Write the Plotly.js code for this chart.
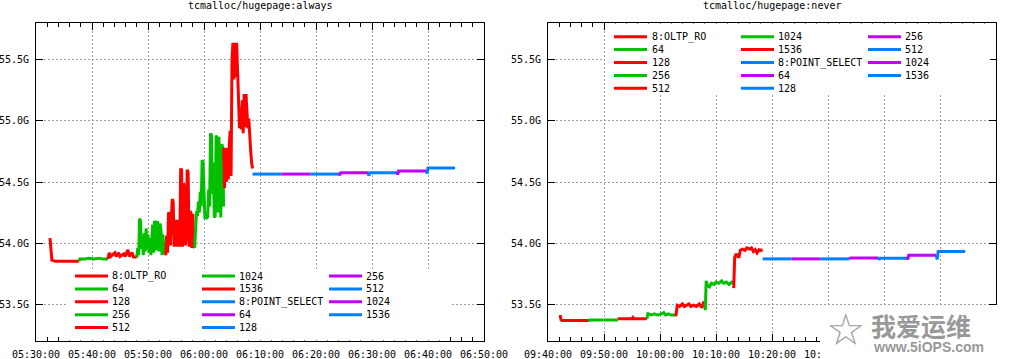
<!DOCTYPE html>
<html><head><meta charset="utf-8">
<script src="https://cdn.plot.ly/plotly-3.0.1.min.js"></script>
<style>html,body{margin:0;padding:0;background:#fff}</style>
</head><body><div id="chart" style="width:1015px;height:359px"></div>
<script>
// ---------------- data ----------------
const chartTitles = ["tcmalloc/hugepage:always", "tcmalloc/hugepage:never"];
const seriesLabels = ["8:OLTP_RO","64","128","256","512","1024","1536","8:POINT_SELECT","64","128","256","512","1024","1536"];
const yTickValues = [53.5, 54.0, 54.5, 55.0, 55.5];
const yTickLabels = ["53.5G", "54.0G", "54.5G", "55.0G", "55.5G"];
const alwaysRange = ["05:30:00", "06:50:00"];
const neverRange = ["09:40:00", "11:00:00"];
const alwaysTickTimes = ["05:30:00","05:40:00","05:50:00","06:00:00","06:10:00","06:20:00","06:30:00","06:40:00","06:50:00"];
const neverTickTimes = ["09:40:00","09:50:00","10:00:00","10:10:00","10:20:00","10:30:00","10:40:00","10:50:00","11:00:00"];
// labels that stay visible in the picture (the rest are hidden by the watermark patch)
const neverTickLabels = ["09:40:00","09:50:00","10:00:00","10:10:00","10:20:00","10:30:00","","",""];

const alwaysTimes = [
  ["05:32:30","05:32:40","05:32:50","05:33:30","05:35:00","05:37:40"],
  ["05:37:40","05:37:50","05:38:40","05:39:30","05:40:20","05:41:10","05:42:00","05:42:50"],
  ["05:42:50","05:42:55","05:43:05","05:43:20","05:44:05","05:44:20","05:44:45","05:45:00","05:45:40","05:45:55","05:46:25","05:46:40","05:47:10","05:47:25","05:48:00"],
  ["05:48:00","05:48:10","05:48:20","05:48:30","05:48:40","05:48:50","05:49:00","05:49:10","05:49:20","05:49:30","05:49:40","05:49:50","05:50:00","05:50:10","05:50:20","05:50:30","05:50:40","05:50:50","05:51:00","05:51:10","05:51:20","05:51:30","05:51:40","05:51:50","05:52:00","05:52:10","05:52:20","05:52:30","05:52:40","05:52:50","05:53:00","05:53:10"],
  ["05:53:10","05:53:20","05:53:30","05:53:40","05:53:50","05:54:00","05:54:10","05:54:20","05:54:30","05:54:40","05:54:50","05:55:00","05:55:10","05:55:20","05:55:30","05:55:40","05:55:50","05:56:00","05:56:10","05:56:20","05:56:30","05:56:40","05:56:50","05:57:00","05:57:10","05:57:20","05:57:30","05:57:40","05:57:50","05:58:00","05:58:10","05:58:20"],
  ["05:58:20","05:58:30","05:58:40","05:58:50","05:59:00","05:59:10","05:59:20","05:59:30","05:59:40","05:59:50","06:00:00","06:00:10","06:00:20","06:00:30","06:00:40","06:00:50","06:01:00","06:01:10","06:01:20","06:01:30","06:01:40","06:01:50","06:02:00","06:02:10","06:02:20","06:02:30","06:02:40","06:02:50","06:03:00","06:03:10","06:03:20","06:03:30"],
  ["06:03:30","06:03:40","06:03:50","06:04:00","06:04:10","06:04:20","06:04:30","06:04:40","06:04:50","06:05:00","06:05:10","06:05:20","06:05:30","06:05:40","06:05:50","06:06:00","06:06:10","06:06:20","06:06:30","06:06:40","06:06:50","06:07:00","06:07:10","06:07:20","06:07:30","06:07:40","06:07:50","06:08:00","06:08:10","06:08:20","06:08:30","06:08:40"],
  ["06:08:40","06:13:50"],
  ["06:13:50","06:19:00"],
  ["06:19:00","06:24:10"],
  ["06:24:10","06:24:15","06:24:25","06:29:20"],
  ["06:29:20","06:29:25","06:29:35","06:34:30"],
  ["06:34:30","06:34:35","06:34:45","06:39:40"],
  ["06:39:40","06:39:50","06:40:00","06:44:50"]
];
const alwaysValues = [
  [54.04,53.97,53.86,53.85,53.85,53.85],
  [53.85,53.87,53.87,53.875,53.87,53.875,53.87,53.87],
  [53.87,53.89,53.92,53.89,53.92,53.89,53.92,53.89,53.91,53.89,53.945,53.89,53.92,53.885,53.885],
  [53.88,53.96,53.90,54.20,54.18,53.95,54.03,53.90,54.08,53.93,54.12,53.95,54.07,53.92,54.04,53.90,54.03,54.15,53.92,54.18,54.17,53.94,54.18,54.14,53.93,54.16,54.10,53.90,54.07,53.91,54.01,53.90],
  [53.90,54.06,53.92,54.25,54.24,53.98,54.19,54.36,54.34,53.97,54.14,54.19,53.97,54.19,54.10,53.97,54.61,54.60,53.97,54.49,54.45,53.98,54.05,54.60,54.58,53.97,54.26,54.25,53.96,54.24,53.97,53.96],
  [53.96,54.19,54.26,54.22,54.34,54.25,54.42,54.30,54.68,54.66,54.45,54.20,54.21,54.20,54.22,54.44,54.30,54.90,54.88,54.40,54.66,54.21,54.22,54.88,54.86,54.25,54.87,54.57,54.21,54.81,54.79,54.30],
  [54.78,54.45,54.78,54.50,54.78,54.52,54.78,54.92,54.55,55.50,55.64,55.34,55.64,55.36,55.64,55.40,55.16,54.94,55.11,54.93,55.17,54.90,55.22,54.95,55.22,55.11,54.94,55.02,54.83,54.76,54.66,54.61],
  [54.565,54.565],
  [54.565,54.565],
  [54.565,54.565],
  [54.565,54.555,54.575,54.575],
  [54.575,54.55,54.575,54.575],
  [54.575,54.56,54.59,54.59],
  [54.59,54.57,54.615,54.615]
];

const neverTimes = [
  ["09:42:10","09:42:20","09:42:30","09:47:20"],
  ["09:47:20","09:47:30","09:49:00","09:50:30","09:52:30"],
  ["09:52:30","09:52:40","09:55:00","09:55:10","09:55:20","09:57:40"],
  ["09:57:40","09:57:50","09:58:30","09:59:00","09:59:30","10:00:00","10:00:40","10:01:00","10:01:30","10:02:00","10:02:50"],
  ["10:02:50","10:03:05","10:03:30","10:04:00","10:04:20","10:04:50","10:05:10","10:05:30","10:06:00","10:06:30","10:07:00","10:07:30","10:07:50","10:08:00"],
  ["10:08:00","10:08:05","10:08:15","10:08:30","10:08:50","10:09:10","10:09:40","10:10:00","10:10:30","10:11:00","10:11:20","10:11:50","10:12:20","10:12:50","10:13:10"],
  ["10:13:10","10:13:20","10:13:35","10:13:50","10:14:05","10:14:20","10:14:40","10:15:10","10:15:30","10:16:00","10:16:20","10:16:40","10:17:00","10:17:20","10:17:40","10:18:00","10:18:20"],
  ["10:18:20","10:23:30"],
  ["10:23:30","10:28:40"],
  ["10:28:40","10:33:50"],
  ["10:33:50","10:34:00","10:39:00"],
  ["10:39:00","10:39:05","10:39:15","10:44:10"],
  ["10:44:10","10:44:15","10:44:25","10:49:20"],
  ["10:49:20","10:49:30","10:49:40","10:54:30"]
];
const neverValues = [
  [53.41,53.37,53.365,53.365],
  [53.36,53.37,53.37,53.37,53.37],
  [53.375,53.38,53.38,53.39,53.38,53.38],
  [53.38,53.42,53.41,53.42,53.41,53.415,53.43,53.41,53.42,53.41,53.41],
  [53.40,53.49,53.48,53.50,53.48,53.49,53.50,53.48,53.49,53.48,53.50,53.47,53.52,53.50],
  [53.50,53.45,53.69,53.65,53.64,53.67,53.66,53.68,53.67,53.69,53.67,53.68,53.66,53.68,53.67],
  [53.63,53.88,53.91,53.89,53.88,53.94,53.95,53.94,53.96,53.95,53.96,53.93,53.945,53.92,53.945,53.94,53.945],
  [53.87,53.87],
  [53.87,53.87],
  [53.87,53.87],
  [53.87,53.877,53.877],
  [53.877,53.865,53.875,53.875],
  [53.875,53.865,53.90,53.90],
  [53.90,53.865,53.93,53.93]
];

// ---------------- styles ----------------
const RED = "#ff0000", GREEN = "#00c000", BLUE = "#0080ff", PURPLE = "#c000ff";
const seriesColors = [RED,GREEN,RED,GREEN,RED,GREEN,RED,BLUE,PURPLE,BLUE,PURPLE,BLUE,PURPLE,BLUE];
const DAY = "2017-01-01 ";
const W = 1015, H = 359;
const MONO = "DejaVu Sans Mono, monospace";
const px = x => x / W;
const py = y => 1 - y / H;

const traces = [];
function addSeries(times, values, xa, ya) {
  times.forEach((ts, i) => {
    traces.push({
      type: "scatter", mode: "lines", xaxis: xa, yaxis: ya,
      x: ts.map(t => DAY + t), y: values[i],
      line: {color: seriesColors[i], width: 3},
      name: seriesLabels[i], hoverinfo: "skip", showlegend: false
    });
  });
}
addSeries(alwaysTimes, alwaysValues, "x", "y");
addSeries(neverTimes, neverValues, "x2", "y2");

const plotTop = 23, plotBottom = 341;
const xBase = {
  type: "date", tickmode: "array",
  showgrid: true, gridcolor: "#a0a0a0", griddash: "2px,2px", gridwidth: 1,
  ticks: "inside", ticklen: 7, tickwidth: 1, tickcolor: "#000",
  minor: {dtick: 120000, ticks: "inside", ticklen: 4, tickwidth: 1, tickcolor: "#000", showgrid: false},
  showline: true, linecolor: "#000", linewidth: 1, mirror: "allticks",
  tickfont: {family: MONO, size: 10, color: "#000"},
  zeroline: false, fixedrange: true, automargin: false, ticklabelstandoff: 4
};
const yBase = {
  range: [53.197, 55.803], tickmode: "array", tickvals: yTickValues, ticktext: yTickLabels,
  showgrid: true, gridcolor: "#a0a0a0", griddash: "2px,2px", gridwidth: 1,
  ticks: "inside", ticklen: 7, tickwidth: 1, tickcolor: "#000",
  showline: true, linecolor: "#000", linewidth: 1, mirror: "allticks",
  tickfont: {family: MONO, size: 10, color: "#000"},
  zeroline: false, fixedrange: true, automargin: false, ticklabelstandoff: 4,
  domain: [py(plotBottom), py(plotTop)]
};

const layout = {
  width: W, height: H, margin: {l: 0, r: 0, t: 0, b: 0},
  paper_bgcolor: "#fff", plot_bgcolor: "#fff", showlegend: false,
  font: {family: MONO, size: 10, color: "#000"},
  xaxis: Object.assign({}, xBase, {domain: [px(36), px(484)], anchor: "y",
    range: [DAY + alwaysRange[0], DAY + alwaysRange[1]],
    tickvals: alwaysTickTimes.map(t => DAY + t), ticktext: alwaysTickTimes}),
  yaxis: Object.assign({}, yBase, {anchor: "x"}),
  xaxis2: Object.assign({}, xBase, {domain: [px(548), px(996)], anchor: "y2",
    range: [DAY + neverRange[0], DAY + neverRange[1]],
    tickvals: neverTickTimes.map(t => DAY + t), ticktext: neverTickLabels}),
  yaxis2: Object.assign({}, yBase, {anchor: "x2"}),
  shapes: [], annotations: []
};

// titles
[[260, chartTitles[0]], [772, chartTitles[1]]].forEach(([cx, t]) => {
  layout.annotations.push({xref: "paper", yref: "paper", x: px(cx), y: py(5),
    xanchor: "center", yanchor: "middle", showarrow: false, text: t,
    font: {family: MONO, size: 10, color: "#000"}});
});

// manual gnuplot-style keys (column-major, 5 rows)
function addKey(box, lineX, textX, rowsY) {
  layout.shapes.push({type: "rect", xref: "paper", yref: "paper", layer: "above",
    x0: px(box[0]), x1: px(box[1]), y0: py(box[3]), y1: py(box[2]),
    fillcolor: "#fff", line: {width: 0}});
  seriesLabels.forEach((lab, i) => {
    const c = Math.floor(i / 5), r = i % 5;
    const y = rowsY[r];
    layout.shapes.push({type: "line", xref: "paper", yref: "paper", layer: "above",
      x0: px(lineX[c]), x1: px(lineX[c] + 33), y0: py(y), y1: py(y),
      line: {color: seriesColors[i], width: 3}});
    layout.annotations.push({xref: "paper", yref: "paper", x: px(textX[c]), y: py(y),
      xanchor: "left", yanchor: "middle", showarrow: false, text: lab, borderpad: 0,
      font: {family: MONO, size: 10, color: "#000"}});
  });
}
addKey([67, 450, 269, 340.5], [75, 202, 329], [111, 238, 365], [276, 288.9, 301.8, 314.7, 327.6]);
addKey([605, 990, 23.5, 95], [614, 741, 868], [650.5, 777, 904], [36.7, 49.6, 62.5, 75.4, 88.3]);

// watermark patch seen at the lower right of the picture
layout.shapes.push({type: "rect", xref: "paper", yref: "paper", layer: "above",
  x0: px(820), x1: px(1015), y0: 0, y1: py(305), fillcolor: "#fff", line: {width: 0}});
layout.annotations.push({xref: "paper", yref: "paper", x: px(845), y: py(329), xanchor: "center", yanchor: "middle",
  showarrow: false, text: "☆", font: {family: "DejaVu Sans", size: 44, color: "#a0a0a0"}});
layout.annotations.push({xref: "paper", yref: "paper", x: px(921), y: py(325), xanchor: "center", yanchor: "middle",
  showarrow: false, text: "<b>我爱运维</b>", font: {family: "Noto Sans CJK SC", size: 25, color: "#999"}});
layout.annotations.push({xref: "paper", yref: "paper", x: px(928), y: py(347), xanchor: "center", yanchor: "middle",
  showarrow: false, text: "<b>www.5iOPS.com</b>", font: {family: "Liberation Sans", size: 14, color: "#999"}});

Plotly.newPlot("chart", traces, layout, {staticPlot: true, displayModeBar: false});
</script></body></html>
